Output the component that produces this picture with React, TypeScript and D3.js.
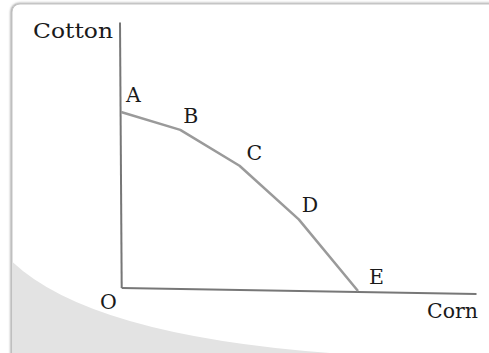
// Production possibilities frontier: Cotton vs Corn
import React, { useEffect, useRef } from 'react';
import * as d3 from 'd3';

// points on the frontier
const pointLabels = ['A', 'B', 'C', 'D', 'E'];
const cornValues = [0, 100, 200, 300, 400];
const cottonValues = [100, 90, 70, 40, 0];

// axis extents (in data units)
const cornMax = 600;
const cottonMax = 150;

const axisLabels = { x: 'Corn', y: 'Cotton', origin: 'O' };

const W = 489;
const H = 353;
const FONT = "'DejaVu Serif', 'Liberation Serif', serif";
const FS = 20.5;

// label nudges relative to their point
const labelOffset: Record<string, [number, number]> = {
  A: [5, -10],
  B: [3, -7],
  C: [7, -6],
  D: [3, -7],
  E: [11, -7],
};

const App = () => {
  const svgRef = useRef<SVGSVGElement>(null);

  useEffect(() => {
    document.body.style.margin = '0';
    const svg = d3.select(svgRef.current);
    svg.selectAll('*').remove();

    svg.attr('width', W).attr('height', H);

    // soft shadow for the card
    const defs = svg.append('defs');
    const f = defs.append('filter').attr('id', 'cardShadow')
      .attr('x', '-5%').attr('y', '-5%').attr('width', '110%').attr('height', '110%');
    f.append('feDropShadow')
      .attr('dx', -1).attr('dy', -0.5)
      .attr('stdDeviation', 1.2)
      .attr('flood-color', '#888').attr('flood-opacity', 0.8);

    // card background
    svg.append('rect')
      .attr('x', 12).attr('y', 4)
      .attr('width', W + 20).attr('height', H + 20)
      .attr('rx', 8)
      .attr('fill', '#fff')
      .attr('stroke', '#c4c4c4')
      .attr('stroke-width', 1)
      .attr('filter', 'url(#cardShadow)');

    // grey swoosh in the lower left corner
    svg.append('path')
      .attr('d', 'M12.5,262 Q90,335 330,353 L12.5,353 Z')
      .attr('fill', '#e3e3e3');

    const x = d3.scaleLinear().domain([0, 400]).range([121, 358]);
    const y = d3.scaleLinear().domain([0, 100]).range([291, 112]);

    const g = svg.append('g');

    // axes (the original is slightly rotated)
    g.append('line')
      .attr('x1', x(0) - 1).attr('y1', y(cottonMax))
      .attr('x2', x(0) + 0.7).attr('y2', y(0) - 3)
      .attr('stroke', '#777').attr('stroke-width', 2);

    g.append('line')
      .attr('x1', x(0) + 0.7).attr('y1', y(0) - 3)
      .attr('x2', x(cornMax)).attr('y2', y(0) + 3)
      .attr('stroke', '#777').attr('stroke-width', 2.2);

    // frontier
    const pts = cornValues.map((c, i) => [x(c), y(cottonValues[i])] as [number, number]);
    g.append('path')
      .attr('d', d3.line()(pts))
      .attr('fill', 'none')
      .attr('stroke', '#9a9a9a')
      .attr('stroke-width', 2.5)
      .attr('stroke-linejoin', 'round');

    // point labels
    g.selectAll('text.pt')
      .data(pointLabels)
      .enter().append('text')
      .attr('class', 'pt')
      .attr('x', (d, i) => pts[i][0] + labelOffset[d][0])
      .attr('y', (d, i) => pts[i][1] + labelOffset[d][1])
      .text(d => d)
      .attr('font-family', FONT)
      .attr('font-size', FS)
      .attr('fill', '#1a1a1a');

    // axis titles
    g.append('text')
      .attr('x', 33).attr('y', y(cottonMax) + 15)
      .attr('textLength', 80).attr('lengthAdjust', 'spacingAndGlyphs')
      .text(axisLabels.y)
      .attr('font-family', FONT).attr('font-size', FS).attr('fill', '#1a1a1a');

    g.append('text')
      .attr('x', 427).attr('y', y(0) + 27)
      .attr('textLength', 51).attr('lengthAdjust', 'spacingAndGlyphs')
      .text(axisLabels.x)
      .attr('font-family', FONT).attr('font-size', FS).attr('fill', '#1a1a1a');

    g.append('text')
      .attr('x', x(0) - 21).attr('y', y(0) + 18)
      .text(axisLabels.origin)
      .attr('font-family', FONT).attr('font-size', FS).attr('fill', '#1a1a1a');
  }, []);

  return (
    <svg ref={svgRef} style={{ position: 'absolute', left: 0, top: 0, display: 'block' }} />
  );
};

export default App;
